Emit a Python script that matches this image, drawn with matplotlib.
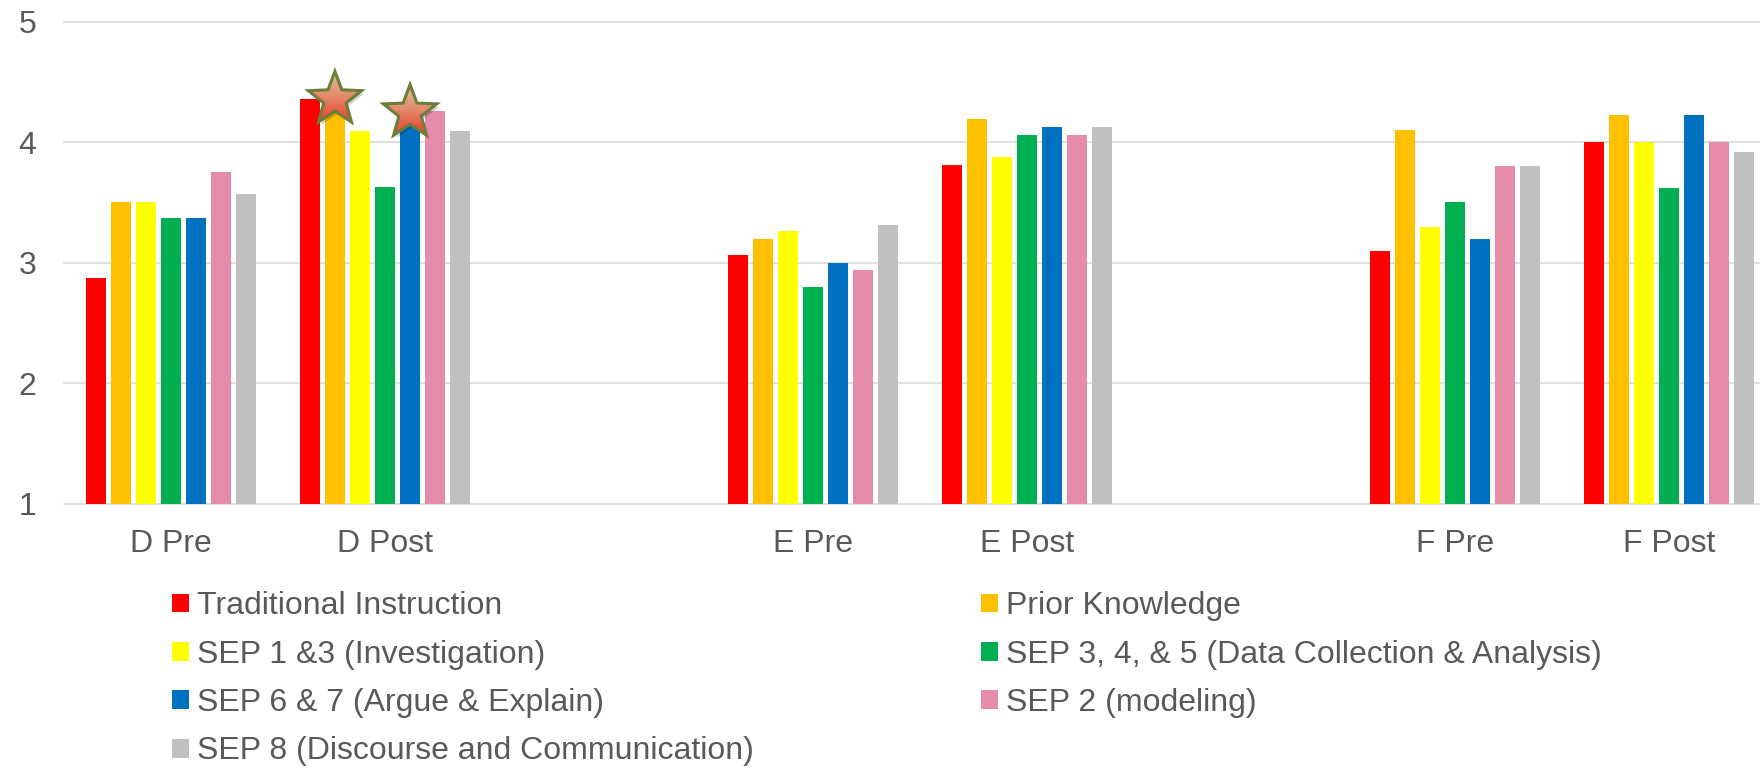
import numpy as np
import matplotlib
matplotlib.use("Agg")
import matplotlib.pyplot as plt
from matplotlib.patches import Patch, Polygon
from matplotlib.colors import LinearSegmentedColormap

plt.rcParams['font.family'] = ['Liberation Sans', 'DejaVu Sans']

# Category rows; the blank rows leave gaps between the D, E and F groups
categories = ['D Pre', 'D Post', '', 'E Pre', 'E Post', '', 'F Pre', 'F Post']

series_names = [
    'Traditional Instruction',
    'Prior Knowledge',
    'SEP 1 &3 (Investigation)',
    'SEP 3, 4, & 5 (Data Collection & Analysis)',
    'SEP 6 & 7 (Argue & Explain)',
    'SEP 2 (modeling)',
    'SEP 8 (Discourse and Communication)',
]
nan = np.nan
traditional = [2.87, 4.36, nan, 3.06, 3.81, nan, 3.10, 4.00]
prior_knowledge = [3.50, 4.29, nan, 3.20, 4.19, nan, 4.10, 4.23]
sep_1_3 = [3.50, 4.09, nan, 3.26, 3.88, nan, 3.30, 4.00]
sep_3_4_5 = [3.37, 3.63, nan, 2.80, 4.06, nan, 3.50, 3.62]
sep_6_7 = [3.37, 4.18, nan, 3.00, 4.125, nan, 3.20, 4.23]
sep_2 = [3.75, 4.26, nan, 2.94, 4.06, nan, 3.80, 4.00]
sep_8 = [3.57, 4.09, nan, 3.31, 4.125, nan, 3.80, 3.92]

series_values = [traditional, prior_knowledge, sep_1_3, sep_3_4_5, sep_6_7, sep_2, sep_8]
colors = ['#FF0000', '#FFC000', '#FFFF00', '#00B050', '#0070C0', '#E68BAA', '#BFBFBF']

# (category, series) pairs that get a star marker
starred = [('D Post', 1), ('D Post', 4)]

text_color = '#595959'
FS = 23
W, H = 1760, 768
fig = plt.figure(figsize=(W / 100, H / 100), dpi=100)
ax = fig.add_axes([64 / W, 264.4 / H, (W - 64) / W, (503.6 - 21.8) / H])

x = np.arange(len(categories))
pitch = 0.117
width = 0.095
n = len(series_values)
bars = []
for i, (vals, col, name) in enumerate(zip(series_values, colors, series_names)):
    off = (i - (n - 1) / 2) * pitch
    b = ax.bar(x + off, vals, width=width, color=col, label=name, zorder=2)
    bars.append(b)

ax.set_xlim(-0.5, -0.5 + (W - 64) / 214)
ax.set_ylim(1, 5)
ax.set_yticks([1, 2, 3, 4, 5])
ax.set_xticks(x)
ax.set_xticklabels(categories)
ax.tick_params(axis='both', length=0, labelsize=FS, colors=text_color)
ax.tick_params(axis='y', pad=20)
ax.tick_params(axis='x', pad=18)
ax.set_axisbelow(True)
ax.yaxis.grid(True, color='#D9D9D9', linewidth=1.2)
for gl in ax.get_ygridlines():
    gl.set_clip_on(False)
for s in ax.spines.values():
    s.set_visible(False)


def draw_star(ax, xc, top, r_px=28, lift_px=8):
    cx, cy = ax.transData.transform((xc, top))
    cy += lift_px
    k = np.arange(10)
    ang = np.pi / 2 + k * np.pi / 5
    rad = np.where(k % 2 == 0, r_px, r_px * 0.42)
    pts = np.column_stack([cx + rad * np.cos(ang), cy + rad * np.sin(ang)])
    inv = ax.transData.inverted()
    # soft drop shadow
    shadow = Polygon(inv.transform(pts + [2.5, -3]), closed=True, facecolor='#000000',
                     edgecolor='none', alpha=0.18, zorder=3)
    ax.add_patch(shadow)
    data_pts = inv.transform(pts)
    star = Polygon(data_pts, closed=True, facecolor='none', edgecolor='#6B7F3A',
                   linewidth=2.2, zorder=5)
    ax.add_patch(star)
    cmap = LinearSegmentedColormap.from_list('star', ['#D9C59A', '#E48A6A', '#EE3B2A'])
    grad = np.linspace(0, 1, 256).reshape(-1, 1)
    x0, y0 = data_pts.min(axis=0)
    x1, y1 = data_pts.max(axis=0)
    im = ax.imshow(grad, cmap=cmap, extent=(x0, x1, y0, y1), origin='upper',
                   aspect='auto', zorder=4, interpolation='bilinear')
    im.set_clip_path(star)


xlim, ylim = ax.get_xlim(), ax.get_ylim()
for cat, si in starred:
    ci = categories.index(cat)
    rect = bars[si][ci]
    draw_star(ax, rect.get_x() + rect.get_width() / 2, rect.get_height())
ax.set_xlim(xlim)
ax.set_ylim(ylim)

# Legend in two columns, filled row by row
handles = [Patch(facecolor=c, edgecolor='none') for c in colors]
leg_kw = dict(loc='upper left', frameon=False, fontsize=FS, labelcolor=text_color,
              handlelength=0.53, handleheight=0.53, handletextpad=0.25,
              labelspacing=0.576, borderpad=0, borderaxespad=0,
              bbox_transform=fig.transFigure)
left_idx = [0, 2, 4, 6]
right_idx = [1, 3, 5]
top_y = 1 - 591.3 / H
leg1 = fig.legend([handles[i] for i in left_idx], [series_names[i] for i in left_idx],
                  bbox_to_anchor=(172 / W, top_y), **leg_kw)
leg2 = fig.legend([handles[i] for i in right_idx], [series_names[i] for i in right_idx],
                  bbox_to_anchor=(981 / W, top_y), **leg_kw)

fig.savefig('out.png', dpi=100)
